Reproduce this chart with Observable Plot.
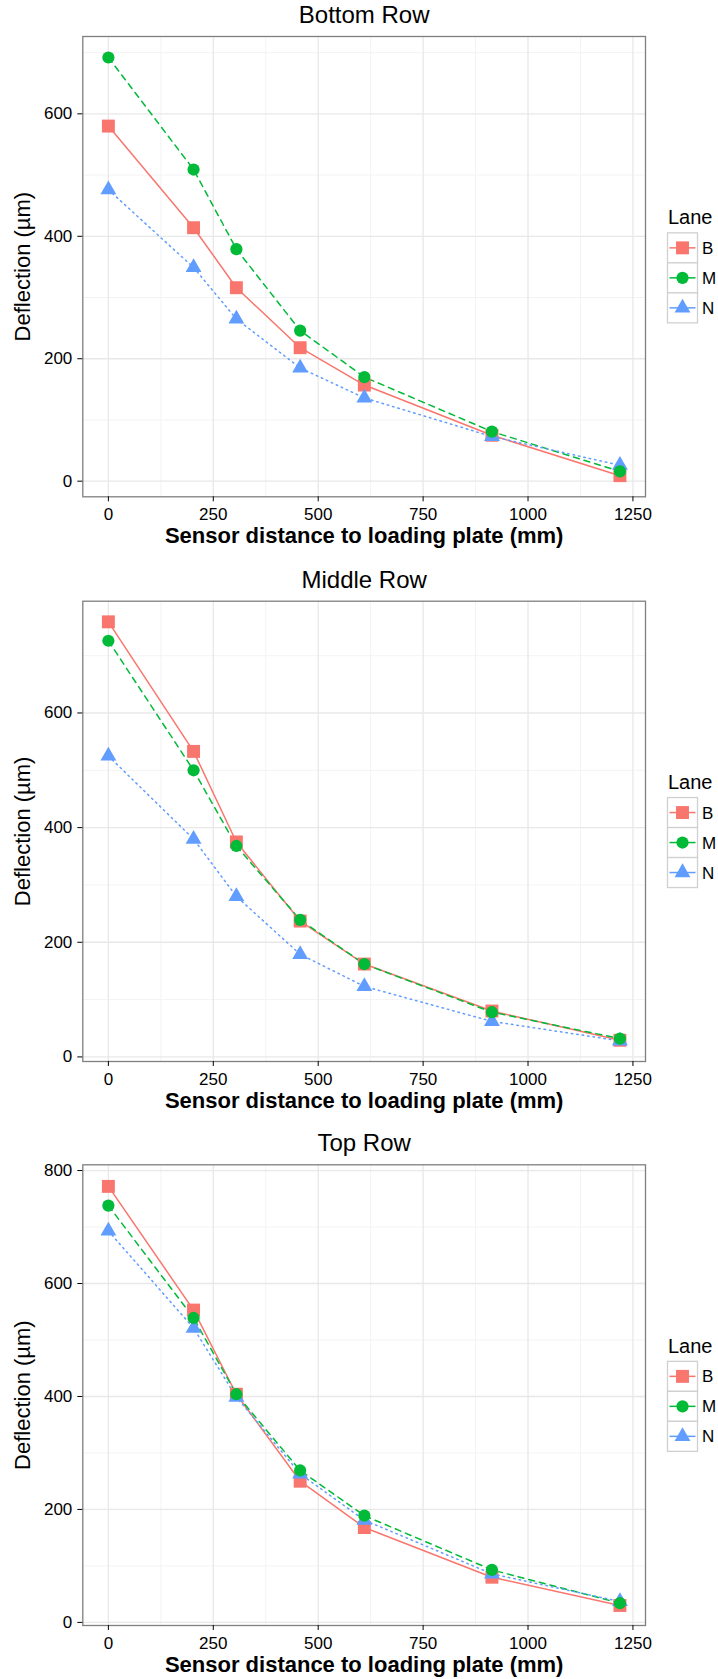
<!DOCTYPE html>
<html><head><meta charset="utf-8">
<script src="https://cdn.jsdelivr.net/npm/d3@7"></script>
<script src="https://cdn.jsdelivr.net/npm/@observablehq/plot@0.6"></script>
<style>
body{margin:0;background:#fff;}
#root{position:relative;width:718px;height:1679px;overflow:hidden;font-family:"Liberation Sans",Arial,Helvetica,sans-serif;}
#root svg{position:absolute;left:0;}
</style></head><body><div id="root"></div>
<script>
// ---- data ----
const distances = [0, 203, 305, 457, 610, 914, 1219];
const lanes = ["B", "M", "N"];
const laneColors = ["#F8766D", "#00BA38", "#619CFF"];
const panelTitles = ["Bottom Row", "Middle Row", "Top Row"];
const xTicks = [0, 250, 500, 750, 1000, 1250];
const xMinor = [125, 375, 625, 875, 1125];
const xLabel = "Sensor distance to loading plate (mm)";
const yLabel = "Deflection (µm)";
const legendTitle = "Lane";

const bottomB = [580, 414, 316, 218, 157, 75, 9];
const bottomM = [692, 509, 379, 246, 170, 81, 16];
const bottomN = [476, 349, 265, 185, 136, 73, 26];

const middleB = [759, 533, 375, 237, 162, 80, 29];
const middleM = [726, 500, 368, 239, 162, 78, 32];
const middleN = [525, 380, 280, 179, 123, 62, 28];

const topB = [772, 553, 404, 250, 168, 80, 30];
const topM = [738, 539, 404, 269, 189, 93, 34];
const topN = [693, 521, 399, 263, 181, 86, 37];

const yTicksA = [0, 200, 400, 600];
const yTicksB = [0, 200, 400, 600, 800];
const yMinor = [100, 300, 500, 700];

// ---- layout ----
const series = [
  {B: bottomB, M: bottomM, N: bottomN},
  {B: middleB, M: middleM, N: middleN},
  {B: topB, M: topM, N: topN}
];
const layout = [
  {top: 0, height: 560, mt: 36, mb: 63.7, yDomain: [-25.5, 726.3], yTicks: yTicksA},
  {top: 560, height: 560, mt: 40.7, mb: 59, yDomain: [-8, 795], yTicks: yTicksA},
  {top: 1120, height: 559, mt: 44.3, mb: 54, yDomain: [-5.5, 810.2], yTicks: yTicksB}
];
const ML = 82.3, MR = 73;
const styleOf = {
  B: {dash: null, symbol: "square", r: 7.3},
  M: {dash: "6,5", symbol: "circle", r: 6.1},
  N: {dash: "1.5,4", symbol: "triangle", r: 5.9}
};
const drawOrder = ["B", "N", "M"];
const fmt = d3.format("d");

const root = document.getElementById("root");

series.forEach((s, p) => {
  const L = layout[p];
  const rows = distances.flatMap((d, i) => lanes.map(l => ({x: d, y: s[l][i], lane: l})));
  const marks = [
    Plot.ruleX(xMinor, {stroke: "#f3f3f3", strokeWidth: 1}),
    Plot.ruleY(yMinor.filter(v => v < L.yDomain[1]), {stroke: "#f3f3f3", strokeWidth: 1}),
    Plot.ruleX(xTicks, {stroke: "#e8e8e8", strokeWidth: 1.3}),
    Plot.ruleY(L.yTicks, {stroke: "#e8e8e8", strokeWidth: 1.3}),
    ...lanes.map(l => Plot.line(rows.filter(r => r.lane === l), {
      x: "x", y: "y", stroke: "lane", strokeWidth: 1.5,
      strokeDasharray: styleOf[l].dash || undefined
    })),
    ...drawOrder.map(l => Plot.dot(rows.filter(r => r.lane === l), {
      x: "x", y: "y", fill: "lane", symbol: styleOf[l].symbol, r: styleOf[l].r, stroke: "none"
    })),
    Plot.frame({stroke: "#7f7f7f", strokeWidth: 1.3}),
    Plot.axisX(xTicks, {tickSize: 5, tickPadding: 6, fontSize: 17, label: null, tickFormat: fmt}),
    Plot.axisY(L.yTicks, {tickSize: 5, tickPadding: 5.5, fontSize: 17, label: null, tickFormat: fmt}),
    Plot.text([panelTitles[p]], {text: d => d, frameAnchor: "top", lineAnchor: "middle", textAnchor: "middle", dy: -21, fontSize: 24, fill: "#000"}),
    Plot.text([xLabel], {text: d => d, frameAnchor: "bottom", lineAnchor: "middle", textAnchor: "middle", dy: 39, fontSize: 22, fontWeight: "bold", fill: "#000"}),
    Plot.text([yLabel], {text: d => d, frameAnchor: "left", lineAnchor: "middle", textAnchor: "middle", dx: -60, rotate: -90, fontSize: 22, fill: "#000"})
  ];
  const chart = Plot.plot({
    width: 718, height: L.height,
    marginTop: L.mt, marginBottom: L.mb, marginLeft: ML, marginRight: MR,
    x: {domain: [-60.95, 1279.95], axis: null},
    y: {domain: L.yDomain, axis: null},
    color: {domain: lanes, range: laneColors},
    style: {fontFamily: '"Liberation Sans", Arial, Helvetica, sans-serif', fontSize: "17px", color: "#000", background: "transparent", overflow: "visible"},
    marks
  });
  chart.style.top = L.top + "px";
  root.appendChild(chart);
});

// ---- legends (ggplot-style keys) ----
const leg = d3.select(root).append("svg")
  .attr("width", 718).attr("height", 1679)
  .style("top", "0px").style("pointer-events", "none")
  .style("font-family", '"Liberation Sans", Arial, Helvetica, sans-serif');
layout.forEach(L => {
  const panelTop = L.top + L.mt, panelBottom = L.top + L.height - L.mb;
  const cy = (panelTop + panelBottom) / 2;
  const g = leg.append("g");
  g.append("text").attr("x", 668).attr("y", cy - 49).attr("dy", "0.35em")
    .attr("font-size", 20).attr("fill", "#000").text(legendTitle);
  const k0 = cy - 33.3, kx = 667.5, ks = 30;
  lanes.forEach((l, i) => {
    const y0 = k0 + i * ks;
    g.append("rect").attr("x", kx).attr("y", y0).attr("width", ks).attr("height", ks)
      .attr("fill", "#fff").attr("stroke", "#d0d0d0").attr("stroke-width", 1.3);
    g.append("line").attr("x1", kx + 2).attr("x2", kx + ks - 2)
      .attr("y1", y0 + ks / 2).attr("y2", y0 + ks / 2)
      .attr("stroke", laneColors[i]).attr("stroke-width", 1.5);
    const sym = {square: d3.symbolSquare, circle: d3.symbolCircle, triangle: d3.symbolTriangle}[styleOf[l].symbol];
    g.append("path").attr("transform", `translate(${kx + ks / 2},${y0 + ks / 2})`)
      .attr("d", d3.symbol(sym, Math.PI * styleOf[l].r * styleOf[l].r)())
      .attr("fill", laneColors[i]);
    g.append("text").attr("x", 702).attr("y", y0 + ks / 2).attr("dy", "0.35em")
      .attr("font-size", 17).attr("fill", "#000").text(l);
  });
});
</script></body></html>
